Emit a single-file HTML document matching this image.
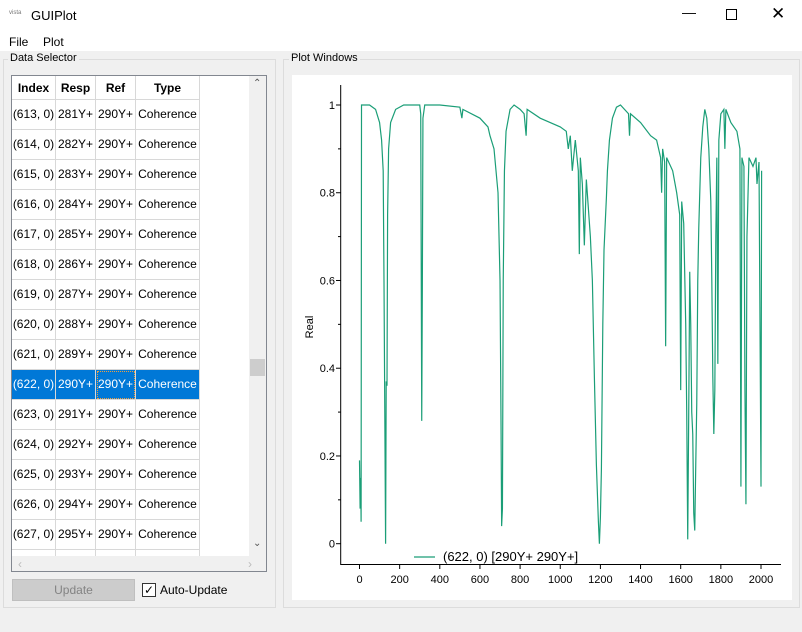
<!DOCTYPE html>
<html><head><meta charset="utf-8"><style>
*{box-sizing:border-box}
body{margin:0;width:802px;height:632px;background:#f0f0f0;font-family:"Liberation Sans",sans-serif;font-size:12px;color:#000;position:relative;overflow:hidden}
.abs{position:absolute}
.cell{position:absolute;height:30px;line-height:29px;border-right:1px solid #d8d8d8;border-bottom:1px solid #d8d8d8;text-align:center;white-space:nowrap;overflow:hidden}
.hdr{font-weight:bold;height:24px;line-height:24px}
.sel{background:#0078d7;color:#fff}
</style></head><body>
<div class="abs" style="left:0;top:0;width:802px;height:31px;background:#fff">
 <span class="abs" style="left:9px;top:10px;font-size:6px;color:#777">vista</span>
 <span class="abs" style="left:31px;top:8px;font-size:13px">GUIPlot</span>
 <span class="abs" style="left:682px;top:4px;font-size:14px">&#8212;</span>
 <span class="abs" style="left:726px;top:9px;width:11px;height:11px;border:1px solid #000"></span>
 <span class="abs" style="left:771px;top:4px;font-size:17px">&#x2715;</span>
</div>
<div class="abs" style="left:0;top:31px;width:802px;height:20px;background:#fff">
 <span class="abs" style="left:9px;top:4px">File</span>
 <span class="abs" style="left:43px;top:4px">Plot</span>
</div>
<div class="abs" style="left:3px;top:59px;width:273px;height:549px;border:1px solid #dcdcdc"></div>
<span class="abs" style="left:8px;top:52px;background:#f0f0f0;padding:0 2px;font-size:11px">Data Selector</span>
<div class="abs" style="left:11px;top:75px;width:256px;height:497px;border:1px solid #828790;background:#fff;overflow:hidden" id="tbl"></div>
<div class="abs" style="left:12px;top:579px;width:123px;height:22px;background:#cccccc;border:1px solid #bfbfbf;color:#838383;text-align:center;line-height:20px">Update</div>
<div class="abs" style="left:142px;top:583px;width:14px;height:14px;border:1px solid #333;background:#fff;font-size:12px;line-height:12px;text-align:center">&#10003;</div>
<span class="abs" style="left:160px;top:583px">Auto-Update</span>
<div class="abs" style="left:283px;top:59px;width:517px;height:549px;border:1px solid #dcdcdc"></div>
<span class="abs" style="left:289px;top:52px;background:#f0f0f0;padding:0 2px;font-size:11px">Plot Windows</span>
<svg class="abs" style="left:0;top:0" width="802" height="632" id="svg"></svg>
<script>
const rowIndex=["(613, 0)","(614, 0)","(615, 0)","(616, 0)","(617, 0)","(618, 0)","(619, 0)","(620, 0)","(621, 0)","(622, 0)","(623, 0)","(624, 0)","(625, 0)","(626, 0)","(627, 0)","(628, 0)"];
const rowResp=["281Y+","282Y+","283Y+","284Y+","285Y+","286Y+","287Y+","288Y+","289Y+","290Y+","291Y+","292Y+","293Y+","294Y+","295Y+","296Y+"];
const tbl=document.getElementById('tbl');
const colX=[0,44,84,124],colW=[44,40,40,64],heads=["Index","Resp","Ref","Type"];
let h='';
heads.forEach((t,i)=>{h+=`<div class="cell hdr" style="left:${colX[i]}px;top:0;width:${colW[i]}px">${t}</div>`;});
rowIndex.forEach((r,j)=>{const vals=[r,rowResp[j],"290Y+","Coherence"];const s=j===9?' sel':'';
 vals.forEach((v,i)=>{const extra=(j===9&&i===2)?'outline:1px dotted #f0a040;outline-offset:-2px;':'';
 h+=`<div class="cell${s}" style="left:${colX[i]}px;top:${24+30*j}px;width:${colW[i]}px;${extra}">${v}</div>`;});});
h+=`<div class="abs" style="left:237px;top:0;width:17px;height:480px;background:#f0f0f0"><div class="abs" style="left:4px;top:2px;font-size:10px;color:#555">&#8963;</div><div class="abs" style="left:1px;top:283px;width:15px;height:17px;background:#cdcdcd"></div><div class="abs" style="left:4px;top:462px;font-size:10px;color:#555">&#8964;</div></div>`;
h+=`<div class="abs" style="left:0;top:480px;width:254px;height:16px;background:#f0f0f0"><span class="abs" style="left:6px;top:1px;color:#bbb">&#8249;</span><span class="abs" style="left:236px;top:1px;color:#bbb">&#8250;</span></div>`;
tbl.innerHTML=h;

const xValues=[0,3,6,8,10,50,80,100,110,118,122,126,130,133,137,140,145,155,180,220,300,305,310,313,316,325,400,500,510,515,600,640,650,670,690,700,705,708,712,716,722,730,750,770,800,820,830,835,900,1000,1030,1040,1050,1060,1075,1090,1095,1100,1110,1120,1130,1150,1160,1170,1180,1190,1195,1200,1205,1212,1218,1225,1230,1235,1245,1260,1280,1300,1340,1345,1350,1400,1450,1480,1500,1505,1510,1520,1525,1530,1560,1580,1595,1600,1605,1615,1625,1630,1635,1640,1645,1650,1655,1660,1665,1670,1675,1680,1685,1690,1700,1710,1720,1730,1740,1750,1755,1760,1765,1770,1775,1780,1785,1790,1800,1815,1820,1825,1850,1880,1895,1900,1905,1915,1920,1925,1930,1940,1960,1975,1980,1990,2000,2003];
const yValues=[0.19,0.08,0.15,0.05,1.0,1.0,0.99,0.96,0.92,0.85,0.6,0.3,0.0,0.37,0.36,0.75,0.9,0.96,0.99,1.0,1.0,0.98,0.28,0.58,0.97,1.0,1.0,0.995,0.97,0.99,0.97,0.95,0.93,0.9,0.8,0.6,0.27,0.04,0.08,0.6,0.85,0.94,0.99,1.0,0.99,0.98,0.93,0.99,0.97,0.95,0.94,0.9,0.93,0.85,0.92,0.85,0.66,0.88,0.82,0.68,0.83,0.7,0.6,0.38,0.18,0.05,0.0,0.06,0.17,0.5,0.67,0.74,0.79,0.85,0.92,0.97,0.995,1.0,0.98,0.93,0.98,0.96,0.93,0.92,0.88,0.8,0.9,0.87,0.45,0.88,0.85,0.8,0.75,0.35,0.78,0.73,0.5,0.3,0.01,0.3,0.62,0.5,0.3,0.25,0.07,0.03,0.18,0.32,0.6,0.72,0.88,0.95,0.99,0.97,0.9,0.78,0.6,0.38,0.25,0.35,0.7,0.88,0.41,0.92,0.98,0.99,0.9,0.99,0.96,0.94,0.9,0.13,0.88,0.86,0.35,0.09,0.7,0.88,0.86,0.88,0.82,0.87,0.13,0.85];
const xTicks=[0,200,400,600,800,1000,1200,1400,1600,1800,2000];
const yTicks=[0,0.2,0.4,0.6,0.8,1];
const yMinor=[0.1,0.3,0.5,0.7,0.9];
const seriesLabel="(622, 0) [290Y+ 290Y+]";

const svg=document.getElementById('svg');const NS='http://www.w3.org/2000/svg';
function el(t,a,p){const e=document.createElementNS(NS,t);for(const k in a)e.setAttribute(k,a[k]);(p||svg).appendChild(e);return e;}
const X=v=>359.5+v*0.20075;
const Y=v=>543.7-v*438.7;
const bg=el('rect',{x:292,y:75,width:500,height:525,fill:'#fff'});


const ax=el('path',{d:'M340.7,85V564.5H781',stroke:'#000','stroke-width':1,fill:'none'});


xTicks.forEach(t=>{el('line',{x1:X(t),x2:X(t),y1:564.5,y2:569,stroke:'#000'});
 const tx=el('text',{x:X(t),y:583,'font-size':11,'text-anchor':'middle','font-family':'Liberation Sans'});tx.textContent=t;
 
 });
yTicks.forEach(t=>{el('line',{x1:336,x2:340.7,y1:Y(t),y2:Y(t),stroke:'#000'});
 const tx=el('text',{x:335,y:Y(t)+4,'font-size':11,'text-anchor':'end','font-family':'Liberation Sans'});tx.textContent=t;
 
 });
yMinor.forEach(t=>{el('line',{x1:338,x2:340.7,y1:Y(t),y2:Y(t),stroke:'#000'});});
const yt=el('text',{x:313,y:327,'font-size':11,'text-anchor':'middle','font-family':'Liberation Sans',transform:'rotate(-90 313 327)'});yt.textContent='Real';


const line=el('polyline',{points:xValues.map((x,i)=>X(x)+','+Y(yValues[i])).join(' '),fill:'none',stroke:'#1b9e77','stroke-width':1.2});


const lg=el('line',{x1:414,x2:435,y1:557,y2:557,stroke:'#1b9e77','stroke-width':1.2});


const lt=el('text',{x:443,y:561,'font-size':13,'font-family':'Liberation Sans'});lt.textContent=seriesLabel;


</script>
</body></html>
